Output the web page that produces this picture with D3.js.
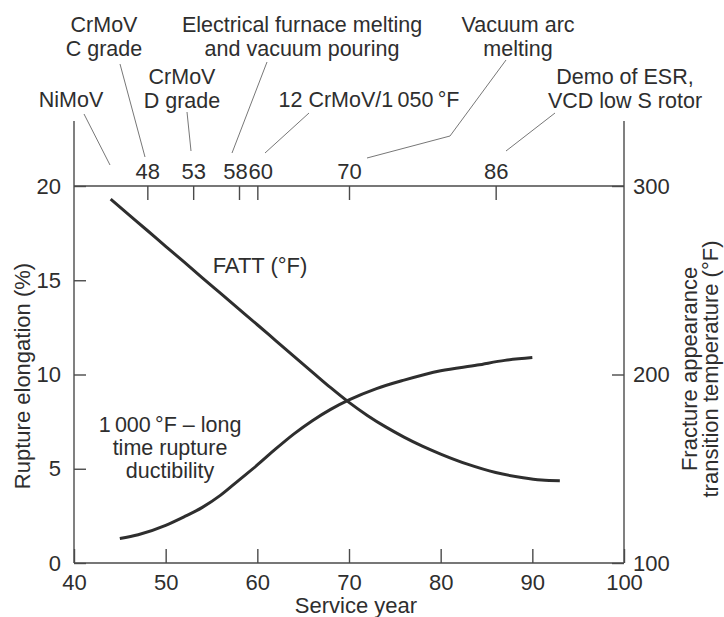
<!DOCTYPE html>
<html><head><meta charset="utf-8">
<script src="https://cdn.jsdelivr.net/npm/d3@7"></script>
<style>
body{margin:0;background:#fff}
text{font-family:"Liberation Sans",Arial,Helvetica,sans-serif;fill:#2e2e2e}
</style></head>
<body><svg id="c" width="724" height="617"></svg>
<script>
// ---- data ----
const serviceYearTicks = [40, 50, 60, 70, 80, 90, 100];
const elongationTicks = [0, 5, 10, 15, 20];
const fattTicks = [100, 200, 300];
const milestoneYears = [48, 53, 58, 60, 70, 86];

const ruptureYears = [45, 47, 50, 52, 54, 56, 58, 60, 62, 64, 66, 68, 70, 73, 76, 80, 84, 87, 90];
const ruptureElong = [1.3, 1.5, 2.0, 2.45, 2.95, 3.6, 4.4, 5.2, 6.05, 6.85, 7.55, 8.15, 8.65, 9.25, 9.7, 10.2, 10.5, 10.75, 10.9];

const fattYears = [44, 46, 48, 50, 52, 54, 56, 58, 60, 62, 64, 66, 68, 70, 72, 74, 76, 78, 80, 83, 86, 89, 91, 93];
const fattValues = [293, 284.7, 276.4, 268, 259.7, 251.3, 243, 234.7, 226.4, 218, 209.6, 201.3, 193, 185.2, 178.3, 172.2, 166.8, 162, 157.8, 152.3, 148, 145.2, 144, 143.6];

// ---- layout ----
const L = 74, R = 624, T = 186, B = 563;
const svg = d3.select("#c");
const x = d3.scaleLinear().domain([40, 100]).range([L, R]);
const yL = d3.scaleLinear().domain([0, 20]).range([B, T]);
const yR = d3.scaleLinear().domain([100, 300]).range([B, T]);

const axisColor = "#4a4a4a";
const fs = 22;
const fsNote = 21.5;

function styleAxis(g){
  g.select(".domain").remove();
  g.selectAll(".tick line").attr("stroke", axisColor).attr("stroke-width", 1.4);
  g.selectAll(".tick text").style("font-size", fs + "px").attr("fill", "#2e2e2e")
   .style("font-family", '"Liberation Sans",Arial,sans-serif');
}

svg.append("g").attr("transform", `translate(${L},0)`)
  .call(d3.axisLeft(yL).tickValues(elongationTicks).tickSize(-12).tickPadding(13))
  .call(styleAxis);
svg.append("g").attr("transform", `translate(${R},0)`)
  .call(d3.axisRight(yR).tickValues(fattTicks).tickSize(-12).tickPadding(9))
  .call(styleAxis);
svg.append("g").attr("transform", `translate(0,${B})`)
  .call(d3.axisBottom(x).tickValues(serviceYearTicks).tickSize(-14).tickPadding(11))
  .call(styleAxis);
const topAx = svg.append("g").attr("transform", `translate(0,${T})`)
  .call(d3.axisTop(x).tickValues(milestoneYears).tickSize(-14).tickPadding(7))
  .call(styleAxis);
// nudge the crowded 58 / 60 labels apart
topAx.selectAll(".tick text").attr("dx", d => d === 58 ? -4 : d === 60 ? 3 : 0);

// frame
const frame = svg.append("g").attr("stroke", axisColor).attr("stroke-width", 1.4).attr("fill", "none");
frame.append("line").attr("x1", L).attr("x2", L).attr("y1", 121).attr("y2", B);
frame.append("line").attr("x1", R).attr("x2", R).attr("y1", 121).attr("y2", B);
frame.append("line").attr("x1", L).attr("x2", R).attr("y1", T).attr("y2", T);
frame.append("line").attr("x1", L).attr("x2", R).attr("y1", B).attr("y2", B);

// curves
const rupture = ruptureYears.map((d, i) => [d, ruptureElong[i]]);
const fatt = fattYears.map((d, i) => [d, fattValues[i]]);
svg.append("path").datum(rupture)
  .attr("d", d3.line().x(d => x(d[0])).y(d => yL(d[1])).curve(d3.curveMonotoneX))
  .attr("fill", "none").attr("stroke", "#2e2e2e").attr("stroke-width", 3);
svg.append("path").datum(fatt)
  .attr("d", d3.line().x(d => x(d[0])).y(d => yR(d[1])).curve(d3.curveMonotoneX))
  .attr("fill", "none").attr("stroke", "#2e2e2e").attr("stroke-width", 3);

// axis titles
svg.append("text").attr("transform", "translate(30,376) rotate(-90)")
  .attr("text-anchor", "middle").style("font-size", fs + "px").text("Rupture elongation (%)");
const rt = svg.append("text").attr("transform", "translate(697,369) rotate(-90)")
  .attr("text-anchor", "middle").style("font-size", fs + "px");
rt.append("tspan").attr("x", 0).attr("y", 0).text("Fracture appearance");
rt.append("tspan").attr("x", 0).attr("y", 21).text("transition temperature (\u00B0F)");
svg.append("text").attr("x", 356).attr("y", 613).attr("text-anchor", "middle")
  .style("font-size", fs + "px").text("Service year");

// curve labels
svg.append("text").attr("x", 260).attr("y", 273).attr("text-anchor", "middle")
  .style("font-size", fs + "px").text("FATT (\u00B0F)");
const rl = svg.append("text").attr("text-anchor", "middle").style("font-size", fsNote + "px");
[["1\u2009000\u2009\u00B0F \u2013 long", 432], ["time rupture", 455], ["ductibility", 478]]
  .forEach(([t, yy]) => rl.append("tspan").attr("x", 170).attr("y", yy).text(t));

// milestone annotations (labels + leader lines)
const notes = [
  {lines: ["CrMoV", "C grade"], cx: 104, y0: 32, lead: [[120, 64], [145, 157]]},
  {lines: ["Electrical furnace melting", "and vacuum pouring"], cx: 302, y0: 32, lead: [[267, 62], [232, 153]]},
  {lines: ["Vacuum arc", "melting"], cx: 518, y0: 32, lead: [[506, 60], [450, 136], [367, 158]]},
  {lines: ["CrMoV", "D grade"], cx: 182, y0: 84, lead: [[187, 112], [191, 151]]},
  {lines: ["NiMoV"], cx: 71, y0: 107, lead: [[84, 114], [110, 165]]},
  {lines: ["12 CrMoV/1\u2009050\u2009\u00B0F"], cx: 369, y0: 107, lead: [[309, 113], [265, 153]]},
  {lines: ["Demo of ESR,", "VCD low S rotor"], cx: 625, y0: 84, lead: [[555, 113], [506, 151]]}
];
notes.forEach(n => {
  const t = svg.append("text").attr("text-anchor", "middle").style("font-size", fsNote + "px");
  n.lines.forEach((s, i) => t.append("tspan").attr("x", n.cx).attr("y", n.y0 + i * 24).text(s));
  svg.append("path").attr("d", d3.line()(n.lead)).attr("fill", "none")
    .attr("stroke", "#777").attr("stroke-width", 1);
});
</script></body></html>
